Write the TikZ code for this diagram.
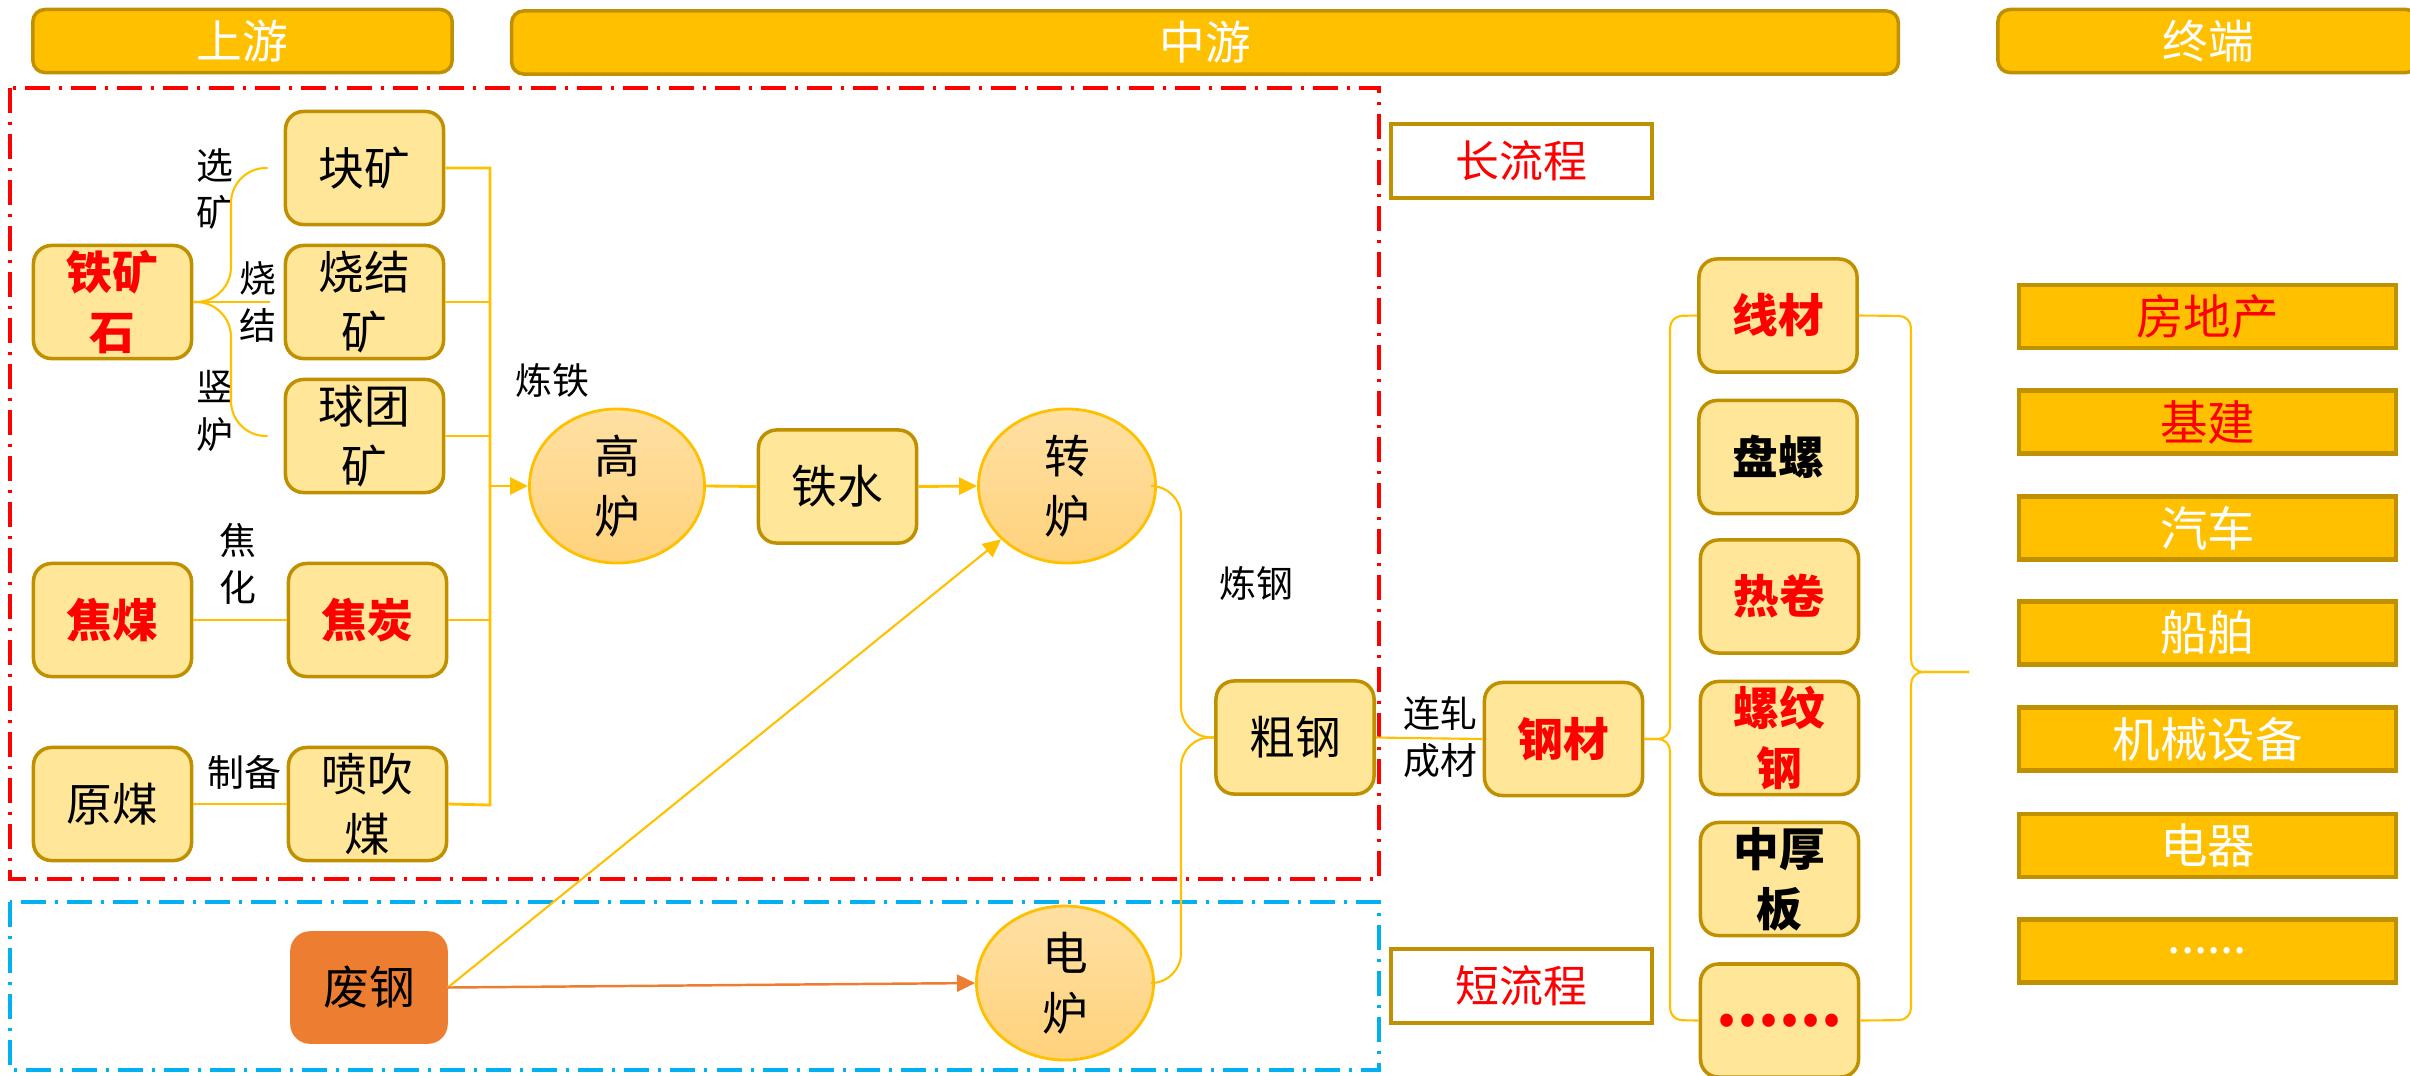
\documentclass[tikz,border=0pt]{standalone}
\usepackage{fontspec}
\setmainfont{Noto Sans CJK SC}
\usetikzlibrary{arrows.meta,shapes.geometric}
\definecolor{gold}{HTML}{FFC000}
\definecolor{dgold}{HTML}{BF9000}
\definecolor{lyel}{HTML}{FFE699}
\definecolor{orng}{HTML}{ED7D31}
\definecolor{skyb}{HTML}{00B0F0}
\definecolor{ellA}{HTML}{FFE0A3}
\definecolor{ellB}{HTML}{FFD27C}
\begin{document}
\begin{tikzpicture}[x=0.01cm,y=-0.01cm,
  nodefont/.style={font=\fontsize{13}{17}\selectfont},
  ybox/.style={draw=dgold, line width=1pt, fill=lyel, rounded corners=0.18cm, align=center, inner sep=0pt, minimum width=1.58cm, minimum height=1.13cm, nodefont},
  furnace/.style={ellipse, draw=gold, line width=0.8pt, top color=ellA, bottom color=ellB, align=center, inner sep=0pt, minimum width=1.77cm, minimum height=1.54cm, nodefont},
  header/.style={draw=dgold, line width=1pt, fill=gold, rounded corners=0.12cm, text=white, inner sep=0pt, minimum height=0.63cm, font=\fontsize{13}{15}\selectfont},
  endbox/.style={draw=dgold, line width=1.2pt, fill=gold, inner sep=0pt, minimum width=3.77cm, minimum height=0.63cm, font=\fontsize{13.5}{15}\selectfont, text=white},
  flowbox/.style={draw=dgold, line width=1pt, fill=white, inner sep=0pt, minimum width=2.61cm, minimum height=0.74cm, text=red, font=\fontsize{12.5}{15}\selectfont},
  lbl/.style={align=center, inner sep=0pt, font=\fontsize{10.5}{13.5}\selectfont},
  conn/.style={draw=gold, line width=0.8pt},
  slim/.style={draw=gold, line width=0.6pt},
  arrowA/.style={-{Triangle[length=0.18cm,width=0.17cm]}},
  hot/.style={text=red, font=\fontsize{13}{17}\selectfont\bfseries},
  strong/.style={font=\fontsize{13}{17}\selectfont\bfseries},
  zone/.style={line width=1.3pt, dash pattern=on 0.25cm off 0.09cm on 0.03cm off 0.09cm},
]
\useasboundingbox (0,0) rectangle (2410,1075);

% headers
\node[header, minimum width=4.19cm] (sy) at (242.5,41) {上游};
\node[header, minimum width=13.86cm] (zy) at (1205,42.5) {中游};
\node[header, minimum width=4.20cm] (zd) at (2208,41) {终端};

% zones
\draw[zone, red] (10,88) rectangle (1379,879);
\draw[zone, skyb] (10,902) rectangle (1379,1070);

% upstream boxes
\node[ybox] (kuai) at (364.5,168) {块矿};
\node[ybox, hot] (tks) at (112.5,302) {铁矿\\石};
\node[ybox] (sj) at (364.5,302) {烧结\\矿};
\node[ybox] (qt) at (364.5,436) {球团\\矿};
\node[ybox, hot] (jm) at (112.5,620) {焦煤};
\node[ybox, hot] (jt) at (367.5,620) {焦炭};
\node[ybox] (ym) at (112.5,804) {原煤};
\node[ybox] (pcm) at (367.5,804) {喷吹\\煤};
\node[ybox, draw=orng, fill=orng, minimum width=1.54cm, minimum height=1.09cm] (fg) at (369,987.5) {废钢};

% furnaces and midstream
\node[furnace, minimum width=1.75cm] (gl) at (617,486) {高\\炉};
\node[ybox] (ts) at (837.5,486.5) {铁水};
\node[furnace] (zl) at (1067,486) {转\\炉};
\node[furnace] (dl) at (1065,983) {电\\炉};
\node[ybox] (cg) at (1295,737.5) {粗钢};
\node[ybox, hot] (gc) at (1563.5,739) {钢材};

% products
\node[ybox, hot] (xc) at (1778,315.5) {线材};
\node[ybox, strong] (pl) at (1778,457) {盘螺};
\node[ybox, hot] (rj) at (1779.5,596.5) {热卷};
\node[ybox, hot] (lwg) at (1779.5,738) {螺纹\\钢};
\node[ybox, strong] (zhb) at (1779.5,879) {中厚\\板};
\node[ybox, hot, font=\fontsize{17}{17}\selectfont\bfseries] (dots) at (1779.5,1020.5) {......};

% flow type boxes
\node[flowbox] (clc) at (1521.5,161) {长流程};
\node[flowbox] (dlc) at (1521.5,986) {短流程};

% end uses
\node[endbox, text=red] (e1) at (2207.5,316.5) {房地产};
\node[endbox, text=red] (e2) at (2207.5,422) {基建};
\node[endbox] (e3) at (2207.5,528) {汽车};
\node[endbox] (e4) at (2207.5,633) {船舶};
\node[endbox] (e5) at (2207.5,739) {机械设备};
\node[endbox] (e6) at (2207.5,845.5) {电器};
\node[endbox] (e7) at (2207.5,951) {......};

% labels
\node[lbl] (l1) at (215,189) {选\\矿};
\node[lbl] (l2) at (258,302) {烧\\结};
\node[lbl] (l3) at (215,411) {竖\\炉};
\node[lbl] (l4) at (552,380) {炼铁};
\node[lbl] (l5) at (238,564) {焦\\化};
\node[lbl] (l6) at (244,772) {制备};
\node[lbl] (l7) at (1256,583) {炼钢};
\node[lbl] (l8) at (1440,737) {连轧\\成材};

% ore branches
\draw[slim, rounded corners=0.35cm] (tks.east) -- (231,302) -- (231,168) -- ([xshift=-0.16cm]kuai.west);
\draw[slim] (tks.east) -- ([xshift=-0.14cm]sj.west);
\draw[slim, rounded corners=0.35cm] (tks.east) -- (231,302) -- (231,436) -- ([xshift=-0.16cm]qt.west);

% bus to blast furnace
\draw[conn] (kuai.east) -- (490,168) -- (490,805) -- (pcm.east);
\draw[conn] (sj.east) -- (490,302);
\draw[conn] (qt.east) -- (490,436);
\draw[conn] (jt.east) -- (490,620);
\draw[conn, arrowA] (490,486) -- (gl.west);
\draw[conn] (jm.east) -- (jt.west);
\draw[conn] (ym.east) -- (pcm.west);

% iron to steel
\draw[conn] (gl.east) -- (ts.west);
\draw[conn, arrowA] (ts.east) -- (zl.west);
\draw[slim, rounded corners=0.3cm] (zl.east) -- (1181,486) -- (1181,737) -- (cg.west);
\draw[slim, rounded corners=0.3cm] (dl.east) -- (1181,983) -- (1181,737) -- (cg.west);
\draw[slim, arrowA] (fg.east) -- (zl);
\draw[draw=orng, line width=0.7pt, arrowA] (fg.east) -- (dl.west);
\draw[slim] (cg.east) -- (gc.west);

% braces
\draw[slim, rounded corners=0.12cm] (gc.east) -- (1670,739) -- (1670,316) -- (xc.west);
\draw[slim, rounded corners=0.12cm] (gc.east) -- (1670,739) -- (1670,1020) -- (dots.west);
\coordinate (brtip) at (1969,672);
\draw[slim, rounded corners=0.12cm] (xc.east) -- (1911,316) -- (1911,672) -- (brtip);
\draw[slim, rounded corners=0.12cm] (dots.east) -- (1911,1020) -- (1911,672) -- (brtip);
\end{tikzpicture}
\end{document}
